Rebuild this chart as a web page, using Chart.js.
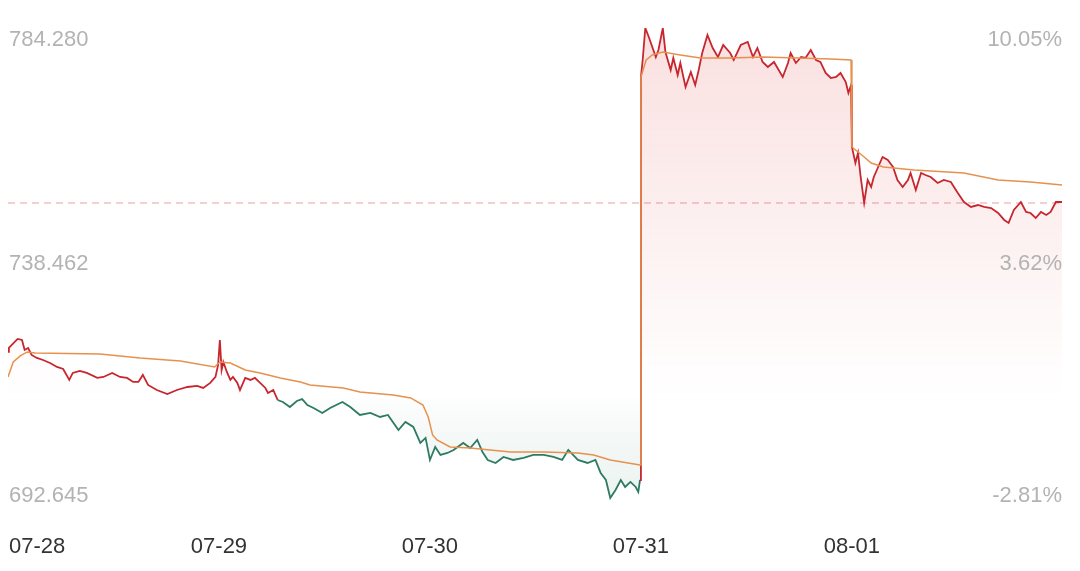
<!DOCTYPE html>
<html>
<head>
<meta charset="utf-8">
<script src="https://cdn.jsdelivr.net/npm/chart.js@4/dist/chart.umd.min.js"></script>
<style>
  html, body { margin: 0; padding: 0; background: #fff; }
  #wrap { width: 1080px; height: 571px; position: relative; }
</style>
</head>
<body>
<div id="wrap"><canvas id="chart"></canvas></div>
<script>
// 5-day intraday chart: price (red above base / green below), average line, dashed ref line
const dates = ['07-28', '07-29', '07-30', '07-31', '08-01'];
const dayStarts = [0, 241, 482, 723, 964];
const lastIndex = 1204;

const baseValue = 712.66;   // 0% level
const refValue = 750.45;    // dashed line
const priceTicks = ['784.280', '738.462', '692.645'];
const pctTicks = ['10.05%', '3.62%', '-2.81%'];
const yMax = 784.28, yMid = 738.462, yMin = 692.645;

// price (minute index, value)
const priceT = [0, 1, 11, 16, 19, 23, 27, 33, 40, 48, 56, 63, 70, 74, 82, 90, 102, 109, 119, 128,
    136, 143, 149, 154, 160, 170, 182, 193, 205, 216, 223, 231, 237, 240,
    242, 244, 246, 250, 254, 257, 262, 265, 271, 277, 282, 288, 294, 297, 303, 308, 314, 322, 330, 336,
    342, 349, 359, 368, 382, 391, 402, 414, 425, 434, 446, 454, 463, 471, 477,
    482, 488, 494, 502, 509, 520, 528, 536, 542, 548, 557, 566, 577, 589, 600, 612, 623, 633, 640, 651,
    662, 671, 677, 683, 688, 694, 700, 705, 711, 717, 720, 722,
    723, 725, 728, 732, 736, 740, 743, 748, 751, 757, 760, 765, 768, 774, 780, 785, 789, 793, 799, 805,
    811, 817, 825, 829, 837, 845, 851, 856, 862, 868, 875, 885, 891, 894, 900, 906, 911, 917, 923, 928,
    934, 940, 946, 951, 957, 960, 963,
    964, 968, 971, 974, 978, 982, 986, 989, 994, 999, 1005, 1011, 1016, 1022, 1028, 1031, 1037, 1043, 1048, 1054,
    1062, 1069, 1077, 1085, 1092, 1100, 1108, 1115, 1123, 1131, 1138, 1143, 1149, 1157, 1163, 1168, 1174, 1180, 1186, 1191,
    1197, 1204];
const priceV = [721.65, 722.42, 724.16, 723.97, 722.03, 722.42, 721.07, 720.49, 720.10, 719.52, 718.75, 718.36, 716.24, 717.59, 717.98, 717.59, 716.63, 716.82, 717.59, 716.82,
    716.63, 715.85, 715.85, 717.21, 715.27, 714.30, 713.53, 714.30, 714.88, 715.08, 714.69, 715.66, 716.82, 719.14,
    723.97, 718.17, 719.72, 717.79, 716.24, 716.82, 715.66, 714.30, 716.63, 716.24, 716.63, 715.66, 714.69, 713.72, 714.30, 712.37, 711.98, 711.01, 712.18, 712.55,
    711.40, 710.82, 709.86, 710.82, 711.98, 711.01, 709.47, 709.86, 709.08, 709.47, 706.57, 708.12, 707.15, 704.06, 705.03,
    700.77, 703.28, 701.74, 702.12, 702.70, 704.06, 703.09, 704.64, 702.32, 700.77, 700.19, 701.35, 700.77, 701.16, 701.74, 701.74, 701.35, 700.77, 702.70, 700.77,
    700.19, 700.77, 698.26, 696.90, 693.42, 694.97, 696.90, 695.55, 696.52, 695.55, 694.58, 696.90,
    774.81, 778.09, 784.28, 782.54, 780.61, 778.67, 780.03, 784.28, 779.64, 776.16, 778.48, 775.19, 777.51, 772.87, 775.77, 773.26, 776.16, 779.45, 782.93, 780.41,
    778.67, 780.99, 779.45, 778.09, 780.99, 781.57, 778.67, 780.41, 777.71, 776.74, 777.71, 774.81, 777.51, 779.45, 777.51, 778.67, 778.48, 780.03, 778.09, 777.71,
    775.58, 774.61, 774.81, 775.58, 773.84, 771.72, 773.26,
    761.28, 758.18, 760.12, 755.48, 750.45, 754.90, 753.55, 755.48, 757.41, 759.34, 758.76, 757.41, 754.90, 753.55, 754.90, 756.25, 752.96, 756.25, 755.86, 755.48,
    754.32, 754.90, 754.51, 752.39, 750.64, 749.68, 750.06, 749.68, 749.48, 748.52, 747.17, 746.59, 749.10, 750.64, 748.71, 748.52, 747.55, 748.71, 748.13, 748.71,
    750.64, 750.64];

// average line
const avgT = [0, 6, 14, 22, 31, 105, 151, 197, 236,
    242, 254, 271, 288, 311, 334, 345, 383, 402, 440, 460, 474, 480,
    485, 490, 505, 528, 574, 612, 651, 669, 688, 722,
    723, 729, 736, 748, 768, 791, 825, 863, 902, 940, 963,
    964, 978, 986, 1000, 1035, 1092, 1131, 1168, 1204];
const avgV = [716.82, 719.72, 720.88, 721.65, 721.46, 721.26, 720.49, 719.91, 718.75,
    719.72, 719.52, 718.17, 717.59, 716.62, 715.85, 715.27, 714.69, 713.92, 713.34, 712.76, 711.40, 709.08,
    705.61, 704.64, 703.28, 703.09, 702.32, 702.32, 702.12, 701.74, 700.77, 699.81,
    774.81, 778.09, 779.06, 779.64, 779.06, 778.48, 778.48, 778.67, 778.48, 778.29, 778.09,
    761.28, 759.34, 758.18, 757.41, 756.83, 756.25, 754.90, 754.51, 753.93];

const RED = '#c8262e';
const GREEN = '#2d7b62';
const ORANGE = '#e6914e';
const FONT = '22px "Liberation Sans", Arial, sans-serif';

const pricePts = priceT.map((t, i) => ({ x: t, y: priceV[i] }));
const avgPts = avgT.map((t, i) => ({ x: t, y: avgV[i] }));

// draw tick texts inside the plot and the date row underneath
const labelPlugin = {
    id: 'labels',
    afterDraw(chart) {
        const { ctx, chartArea } = chart;
        const xs = chart.scales.x, ys = chart.scales.y;
        ctx.save();
        ctx.font = FONT;
        ctx.fillStyle = '#b3b3b3';
        const rows = [[yMax, 18], [yMid, 5], [yMin, 0]];
        rows.forEach(([v, off], i) => {
            const y = ys.getPixelForValue(v) + off;
            ctx.textAlign = 'left';
            ctx.fillText(priceTicks[i], chartArea.left + 1, y);
            ctx.textAlign = 'right';
            ctx.fillText(pctTicks[i], chartArea.right, y);
        });
        ctx.fillStyle = '#333';
        dates.forEach((d, i) => {
            const x = xs.getPixelForValue(dayStarts[i]);
            ctx.textAlign = i === 0 ? 'left' : 'center';
            ctx.fillText(d, i === 0 ? x + 1 : x, chartArea.bottom + 51);
        });
        ctx.restore();
    }
};

const chart = new Chart(document.getElementById('chart'), {
    type: 'line',
    data: {
        datasets: [{
            data: avgPts,
            borderColor: ORANGE,
            borderWidth: 1.5,
            pointRadius: 0,
            fill: false
        }, {
            data: pricePts,
            borderWidth: 1.8,
            pointRadius: 0,
            borderColor: RED,
            segment: {
                borderColor: c => (c.p0.parsed.y < baseValue && c.p1.parsed.y < baseValue) ? GREEN : RED
            },
            fill: { target: { value: baseValue }, above: 'rgba(230,80,80,0.12)', below: 'rgba(45,123,98,0.06)' }
        }, {
            data: [{ x: 0, y: refValue }, { x: lastIndex, y: refValue }],
            borderColor: 'rgba(226,130,130,0.75)',
            borderWidth: 1,
            borderDash: [7, 5],
            pointRadius: 0,
            fill: false
        }]
    },
    options: {
        responsive: true,
        maintainAspectRatio: false,
        animation: false,
        layout: { padding: { left: 8, right: 18, top: 28, bottom: 69 } },
        scales: {
            x: { type: 'linear', min: 0, max: lastIndex, display: false },
            y: { min: yMin, max: yMax, display: false }
        },
        plugins: { legend: { display: false }, tooltip: { enabled: false } }
    },
    plugins: [labelPlugin]
});

// gradients need the chart area, so set them once laid out
const area = chart.chartArea;
const baseY = chart.scales.y.getPixelForValue(baseValue);
const ctx2 = chart.ctx;
const redGrad = ctx2.createLinearGradient(0, area.top, 0, baseY);
redGrad.addColorStop(0, 'rgba(226,70,70,0.17)');
redGrad.addColorStop(0.55, 'rgba(226,70,70,0.08)');
redGrad.addColorStop(0.85, 'rgba(226,70,70,0.025)');
redGrad.addColorStop(1, 'rgba(226,70,70,0.0)');
const greenGrad = ctx2.createLinearGradient(0, baseY - 10, 0, area.bottom);
greenGrad.addColorStop(0, 'rgba(45,123,98,0.0)');
greenGrad.addColorStop(0.5, 'rgba(45,123,98,0.06)');
greenGrad.addColorStop(1, 'rgba(45,123,98,0.09)');
chart.data.datasets[1].fill.above = redGrad;
chart.data.datasets[1].fill.below = greenGrad;
chart.update('none');
</script>
</body>
</html>
